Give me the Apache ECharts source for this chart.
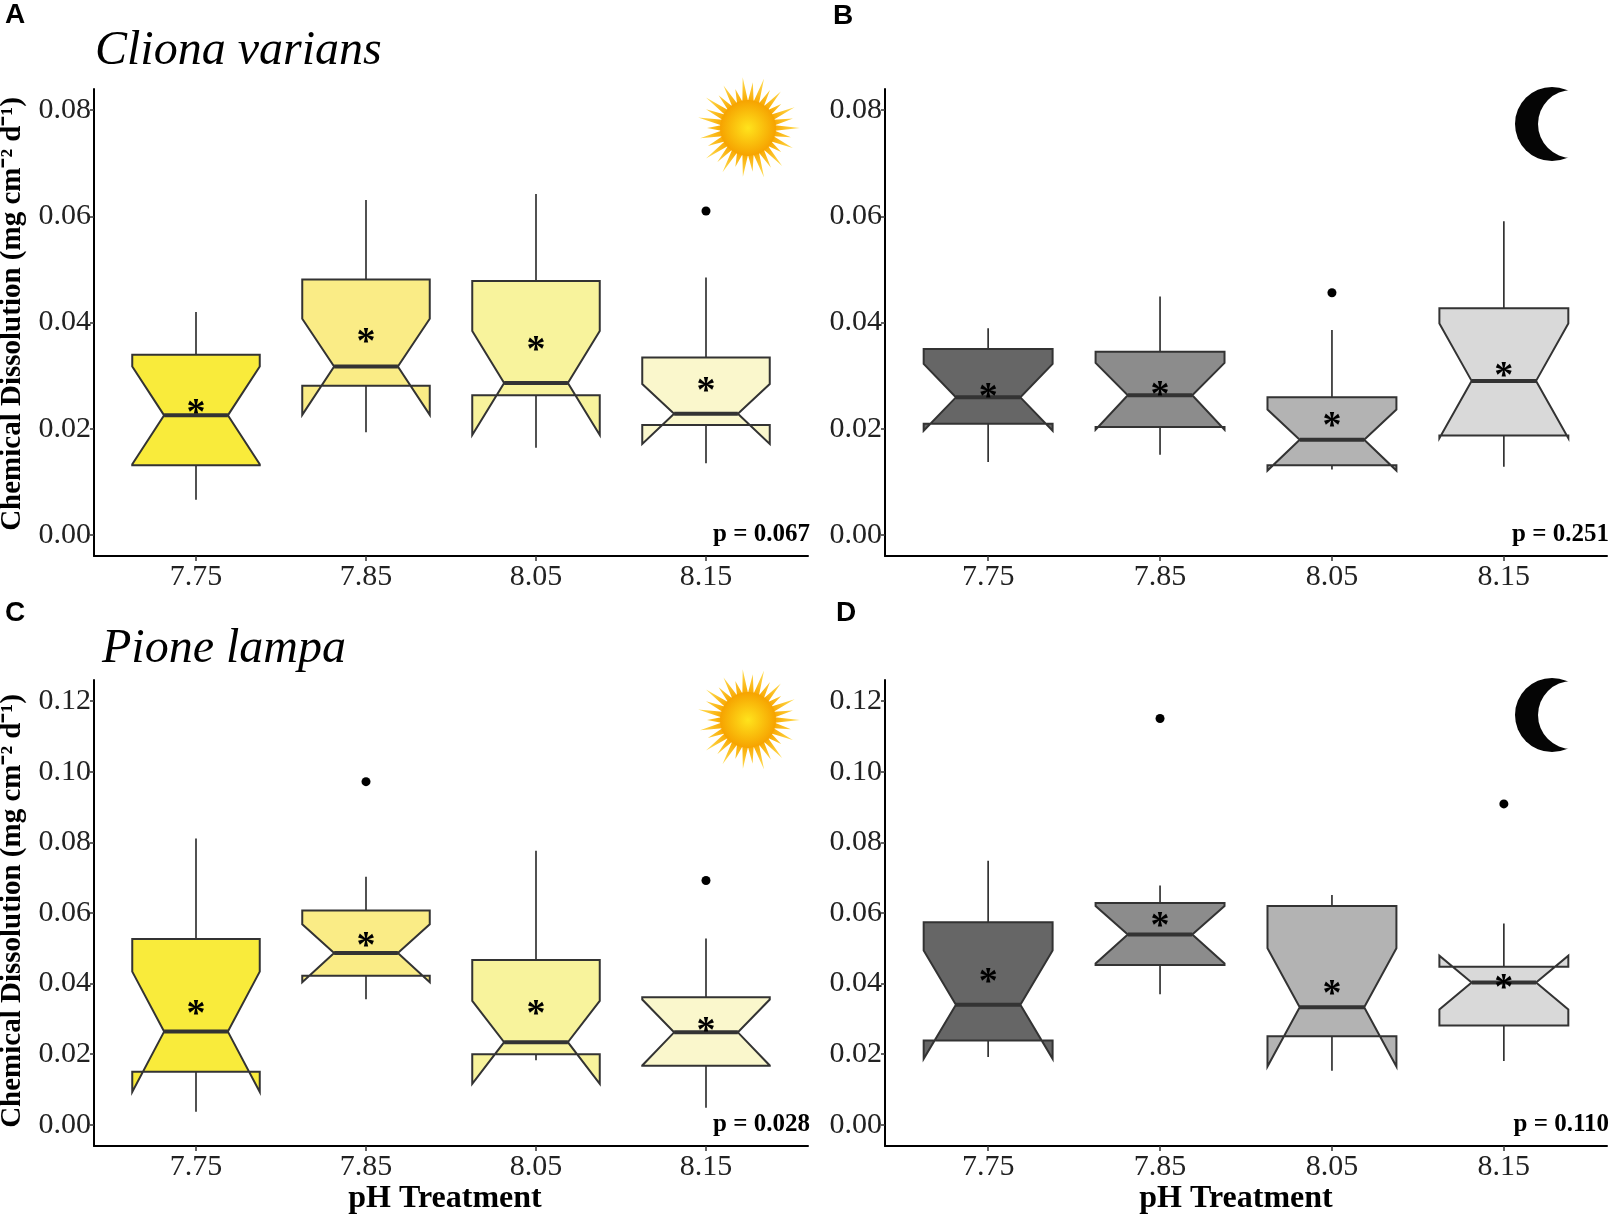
<!DOCTYPE html>
<html>
<head>
<meta charset="utf-8">
<script src="https://cdn.jsdelivr.net/npm/echarts@6/dist/echarts.min.js"></script>
<style>
  html, body { margin: 0; padding: 0; background: #fff; }
  #main { width: 1611px; height: 1217px; }
</style>
</head>
<body>
<div id="main"></div>
<script>
var phLevels = ['7.75', '7.85', '8.05', '8.15'];
var yTicksTop = [0, 0.02, 0.04, 0.06, 0.08];
var yTicksBottom = [0, 0.02, 0.04, 0.06, 0.08, 0.10, 0.12];

// each row: [lower whisker, Q1, median, Q3, upper whisker, notch low, notch high, mean]
var clionaDay = [
  [0.0066, 0.0131, 0.0225, 0.0339, 0.0420, 0.0133, 0.0317, 0.0240],
  [0.0193, 0.0281, 0.0317, 0.0481, 0.0631, 0.0226, 0.0407, 0.0374],
  [0.0164, 0.0263, 0.0286, 0.0478, 0.0642, 0.0188, 0.0384, 0.0360],
  [0.0135, 0.0207, 0.0228, 0.0334, 0.0485, 0.0171, 0.0284, 0.0281]
];
var clionaNight = [
  [0.0137, 0.0209, 0.0259, 0.0350, 0.0389, 0.0196, 0.0322, 0.0270],
  [0.0151, 0.0203, 0.0263, 0.0345, 0.0449, 0.0198, 0.0324, 0.0274],
  [0.0123, 0.0131, 0.0179, 0.0259, 0.0386, 0.0121, 0.0236, 0.0216],
  [0.0128, 0.0187, 0.0290, 0.0427, 0.0591, 0.0182, 0.0398, 0.0310]
];
var pioneDay = [
  [0.0037, 0.0150, 0.0264, 0.0526, 0.0811, 0.0093, 0.0434, 0.0331],
  [0.0356, 0.0422, 0.0487, 0.0607, 0.0703, 0.0404, 0.0568, 0.0522],
  [0.0183, 0.0200, 0.0234, 0.0467, 0.0776, 0.0116, 0.0351, 0.0329],
  [0.0048, 0.0167, 0.0262, 0.0361, 0.0528, 0.0168, 0.0355, 0.0283]
];
var pioneNight = [
  [0.0192, 0.0239, 0.0340, 0.0574, 0.0748, 0.0187, 0.0494, 0.0420],
  [0.0370, 0.0453, 0.0539, 0.0628, 0.0678, 0.0457, 0.0620, 0.0579],
  [0.0153, 0.0251, 0.0333, 0.0620, 0.0651, 0.0165, 0.0500, 0.0387],
  [0.0181, 0.0281, 0.0403, 0.0448, 0.0570, 0.0327, 0.0479, 0.0403]
];

// outliers: [pH index (1..4), value]
var clionaDayOut = [[4, 0.0610]];
var clionaNightOut = [[3, 0.0456]];
var pioneDayOut = [[2, 0.0972], [4, 0.0692]];
var pioneNightOut = [[2, 0.1151], [4, 0.0909]];

var pValues = ['p = 0.067', 'p = 0.251', 'p = 0.028', 'p = 0.110'];

var dayColors = ['#F9EB3B', '#FAEC86', '#F8F39C', '#FAF7CC'];
var nightColors = ['#666666', '#8C8C8C', '#B3B3B3', '#D9D9D9'];

var SERIF = '"Liberation Serif", "Times New Roman", serif';
var SANS = '"Liberation Sans", Arial, sans-serif';

var myChart = echarts.init(document.getElementById('main'), null, { renderer: 'canvas' });

var grids = [
  { left: 94, top: 89, width: 714, height: 467 },
  { left: 885, top: 89, width: 722, height: 467 },
  { left: 94, top: 680, width: 714, height: 466 },
  { left: 885, top: 680, width: 722, height: 466 }
];

function xAxisFor(gi) {
  return {
    type: 'value', gridIndex: gi, min: 0.4, max: 4.6,
    axisLine: { onZero: false, lineStyle: { color: '#000', width: 2 } },
    axisTick: { customValues: [1, 2, 3, 4], length: 5, lineStyle: { color: '#333', width: 1.5 } },
    axisLabel: {
      customValues: [1, 2, 3, 4],
      formatter: function (v) { return phLevels[Math.round(v) - 1]; },
      fontFamily: SERIF, fontSize: 30, color: '#222', margin: 6
    },
    splitLine: { show: false }
  };
}

function yAxisFor(gi, lo, hi, ticks) {
  return {
    type: 'value', gridIndex: gi, min: lo, max: hi,
    axisLine: { show: true, onZero: false, lineStyle: { color: '#000', width: 2 } },
    axisTick: { show: true, customValues: ticks, length: 4, lineStyle: { color: '#333', width: 1.5 } },
    axisLabel: {
      customValues: ticks,
      formatter: function (v) { return v.toFixed(2); },
      fontFamily: SERIF, fontSize: 30, color: '#222', margin: 3
    },
    splitLine: { show: false }
  };
}

function boxRows(stats) {
  return stats.map(function (s, i) { return [i + 1].concat(s); });
}

function boxSeries(gi, stats, colors) {
  return {
    type: 'custom', xAxisIndex: gi, yAxisIndex: gi,
    data: boxRows(stats),
    renderItem: function (params, api) {
      var x = api.value(0);
      var lw = api.value(1), q1 = api.value(2), med = api.value(3), q3 = api.value(4);
      var uw = api.value(5), nl = api.value(6), nu = api.value(7), mean = api.value(8);
      var hw = 0.375, ind = 0.1875;
      var P = function (a, b) { return api.coord([a, b]); };
      var col = colors[params.dataIndex];
      var line = { stroke: '#333', lineWidth: 1.7 };
      var pts = [
        P(x - hw, q3), P(x - hw, nu), P(x - hw + ind, med), P(x - hw, nl), P(x - hw, q1),
        P(x + hw, q1), P(x + hw, nl), P(x + hw - ind, med), P(x + hw, nu), P(x + hw, q3)
      ];
      var a = P(x - hw + ind, med), b = P(x + hw - ind, med), m = P(x, mean);
      return {
        type: 'group',
        children: [
          { type: 'line', shape: { x1: P(x, q3)[0], y1: P(x, q3)[1], x2: P(x, uw)[0], y2: P(x, uw)[1] }, style: line },
          { type: 'line', shape: { x1: P(x, q1)[0], y1: P(x, q1)[1], x2: P(x, lw)[0], y2: P(x, lw)[1] }, style: line },
          { type: 'polygon', shape: { points: pts }, style: { fill: col, stroke: '#333', lineWidth: 2, lineJoin: 'miter' } },
          { type: 'line', shape: { x1: a[0], y1: a[1], x2: b[0], y2: b[1] }, style: { stroke: '#333', lineWidth: 4 } },
          { type: 'text', x: m[0], y: m[1] + 7, style: { text: '*', font: 'bold 38px ' + SERIF, fill: '#000', textAlign: 'center', textVerticalAlign: 'middle' } }
        ]
      };
    },
    z: 3
  };
}

function outlierSeries(gi, pts) {
  return {
    type: 'scatter', xAxisIndex: gi, yAxisIndex: gi, data: pts,
    symbol: 'circle', symbolSize: 9, itemStyle: { color: '#000', opacity: 1 }, z: 4
  };
}

function sun(cx, cy) {
  var pts = [];
  var n = 30;
  var lens = [52, 44, 49, 41, 51, 46];
  for (var i = 0; i < n * 2; i++) {
    var ang = Math.PI * i / n;
    var r = (i % 2 === 0) ? lens[(i / 2) % lens.length] : 27;
    pts.push([cx + r * Math.cos(ang), cy + r * Math.sin(ang)]);
  }
  return [
    { type: 'polygon', shape: { points: pts }, style: { fill: new echarts.graphic.RadialGradient(cx, cy, 52, [{ offset: 0.5, color: '#F9A800' }, { offset: 1, color: '#FFE15A' }], true) }, z: 10 },
    { type: 'circle', shape: { cx: cx, cy: cy, r: 28 }, style: { fill: new echarts.graphic.RadialGradient(0.5, 0.5, 0.5, [{ offset: 0, color: '#FFE31C' }, { offset: 1, color: '#F6A200' }]) }, z: 11 }
  ];
}

function moon(cx, cy) {
  return [
    { type: 'circle', shape: { cx: cx, cy: cy, r: 37 }, style: { fill: '#050505' }, z: 10 },
    { type: 'circle', shape: { cx: cx + 20, cy: cy, r: 34 }, style: { fill: '#fff' }, z: 11 }
  ];
}

function txt(x, y, text, font, align, extra) {
  var o = { type: 'text', x: x, y: y, style: { text: text, font: font, fill: '#000', textAlign: align || 'left', textVerticalAlign: 'middle' }, z: 12 };
  if (extra) { for (var k in extra) o[k] = extra[k]; }
  return o;
}

var yTitle = 'Chemical Dissolution (mg cm\u207B\u00B2 d\u207B\u00B9)';
var graphics = [
  txt(5, 15, 'A', 'bold 28px ' + SANS),
  txt(833, 16, 'B', 'bold 28px ' + SANS),
  txt(5, 613, 'C', 'bold 28px ' + SANS),
  txt(836, 613, 'D', 'bold 28px ' + SANS),
  txt(95, 51, 'Cliona varians', 'italic 48px ' + SERIF),
  txt(102, 649, 'Pione lampa', 'italic 48px ' + SERIF),
  txt(13, 314, yTitle, 'bold 29px ' + SERIF, 'center', { rotation: Math.PI / 2 }),
  txt(13, 911, yTitle, 'bold 29px ' + SERIF, 'center', { rotation: Math.PI / 2 }),
  txt(445, 1199, 'pH Treatment', 'bold 32px ' + SERIF, 'center'),
  txt(1236, 1199, 'pH Treatment', 'bold 32px ' + SERIF, 'center'),
  txt(810, 535, pValues[0], 'bold 25px ' + SERIF, 'right'),
  txt(1609, 535, pValues[1], 'bold 25px ' + SERIF, 'right'),
  txt(810, 1125, pValues[2], 'bold 25px ' + SERIF, 'right'),
  txt(1609, 1125, pValues[3], 'bold 25px ' + SERIF, 'right')
].concat(sun(748, 128), sun(748, 720), moon(1552, 124), moon(1552, 715));

var option = {
  backgroundColor: '#fff',
  animation: false,
  grid: grids,
  xAxis: [xAxisFor(0), xAxisFor(1), xAxisFor(2), xAxisFor(3)],
  yAxis: [
    yAxisFor(0, -0.004, 0.084, yTicksTop),
    yAxisFor(1, -0.004, 0.084, yTicksTop),
    yAxisFor(2, -0.006, 0.126, yTicksBottom),
    yAxisFor(3, -0.006, 0.126, yTicksBottom)
  ],
  series: [
    boxSeries(0, clionaDay, dayColors),
    boxSeries(1, clionaNight, nightColors),
    boxSeries(2, pioneDay, dayColors),
    boxSeries(3, pioneNight, nightColors),
    outlierSeries(0, clionaDayOut),
    outlierSeries(1, clionaNightOut),
    outlierSeries(2, pioneDayOut),
    outlierSeries(3, pioneNightOut)
  ],
  graphic: graphics
};
myChart.setOption(option);
</script>
</body>
</html>
